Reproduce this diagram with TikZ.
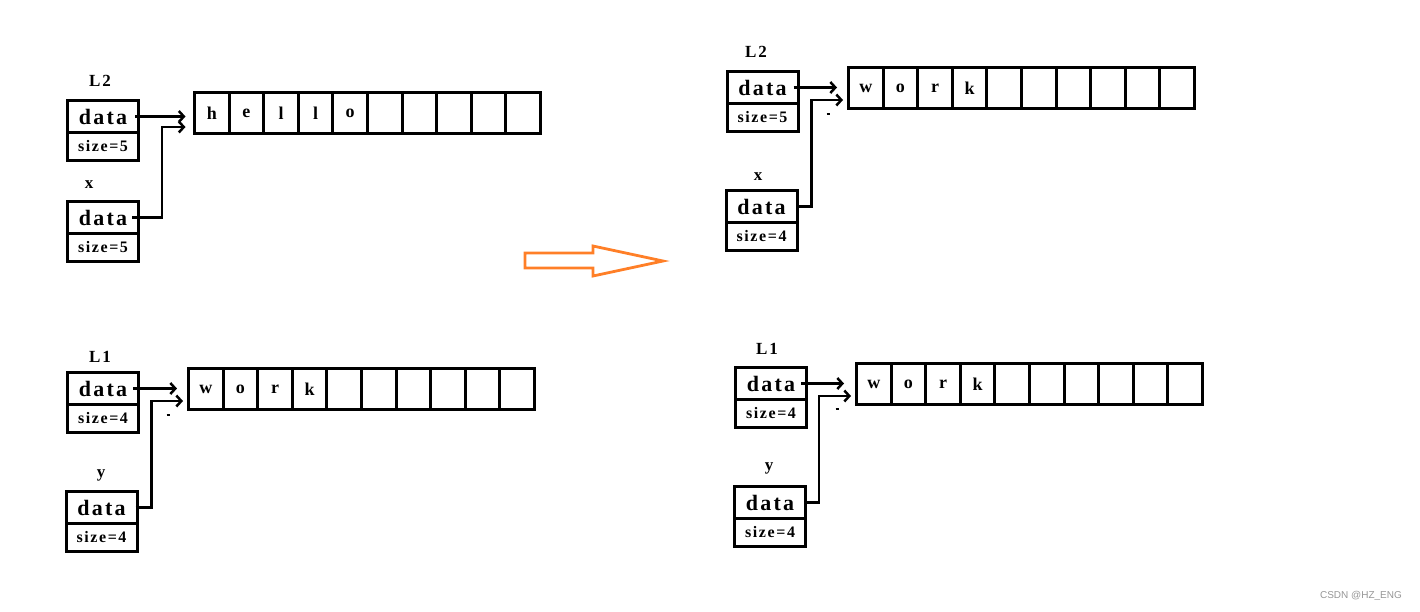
\documentclass[tikz,border=0pt]{standalone}
\usepackage{fontspec}
\setmainfont{Liberation Serif}[LetterSpace=10]
\setsansfont{Liberation Sans}
\usetikzlibrary{arrows.meta,positioning}
\definecolor{ArrowClr}{RGB}{255,127,39}
\definecolor{MarkClr}{RGB}{150,150,150}

\begin{document}
\begin{tikzpicture}[x=1pt,y=-1pt,
  box/.style={draw,line width=3pt,outer sep=0pt,inner sep=0pt,minimum width=71pt},
  datapart/.style={box,minimum height=32pt,font=\bfseries\fontsize{22}{22}\selectfont},
  sizepart/.style={box,minimum height=28pt,font=\bfseries\fontsize{16}{16}\selectfont},
  slot/.style={draw,line width=3pt,outer sep=0pt,inner sep=0pt,minimum width=34.6pt,
    minimum height=41pt,font=\bfseries\fontsize{18}{18}\selectfont},
  varname/.style={font=\bfseries\fontsize{17}{17}\selectfont},
  link/.style={line width=2.5pt,-{Straight Barb[length=5pt,width=11pt]}},
  speck/.style={line width=1.5pt}]

\useasboundingbox (0,0) rectangle (1420,611);

% before: L2 and x
\node[varname] (L2n) at (100,81) {L2};
\node[datapart] (L2d) at (103,116.5) {data};
\node[sizepart,below=0pt of L2d] (L2s) {size=5};
\node[varname] (xn) at (89,185) {x};
\node[datapart] (xd) at (103,217.5) {data};
\node[sizepart,below=0pt of xd] (xs) {size=5};
\foreach \i in {1,...,10}
  \node[slot] (L2a\i) at ({177.2+34.6*\i},113) {};
\foreach \c [count=\i] in {h,e,l,l,o}
  \node[slot,draw=none] at (L2a\i) {\c};
\draw[link,shorten >=9pt] ([xshift=-3.5pt]L2d.east) -- (L2d.east -| L2a1.west);
\draw[link,shorten >=9pt] ([xshift=-6.5pt]xd.east) -- ++(30,0) |- ([yshift=-14pt]L2a1.west);

% before: L1 and y
\node[varname] (L1n) at (100,357) {L1};
\node[datapart] (L1d) at (103,388.5) {data};
\node[sizepart,below=0pt of L1d] (L1s) {size=4};
\node[varname] (yn) at (101,475) {y};
\node[datapart] (yd) at (101.5,507.5) {data};
\node[sizepart,below=0pt of yd] (ys) {size=4};
\foreach \i in {1,...,10}
  \node[slot] (L1a\i) at ({171.2+34.6*\i},389) {};
\foreach \c [count=\i] in {w,o,r,k}
  \node[slot,draw=none] at (L1a\i) {\c};
\draw[link,shorten >=11.5pt] ([xshift=-5.5pt]L1d.east) -- (L1d.east -| L1a1.west);
\draw[link,shorten >=5.5pt] ([xshift=-1.5pt]yd.east) -- ++(16,0) |- ([yshift=-12pt]L1a1.west);
\draw[speck] (166.5,415) -- (169.5,415);

% swap
\draw[ArrowClr,line width=2.8pt] (525,253) -- (593,253) -- (593,246) -- (663,261)
  -- (593,276) -- (593,268) -- (525,268) -- cycle;

% after: L2 and x
\node[varname] (L2nb) at (756,52) {L2};
\node[datapart] (L2db) at (762.5,87.5) {data};
\node[sizepart,below=0pt of L2db] (L2sb) {size=5};
\node[varname] (xnb) at (758,177) {x};
\node[datapart] (xdb) at (761.5,206.5) {data};
\node[sizepart,below=0pt of xdb] (xsb) {size=4};
\foreach \i in {1,...,10}
  \node[slot] (L2b\i) at ({831.2+34.6*\i},88) {};
\foreach \c [count=\i] in {w,o,r,k}
  \node[slot,draw=none] at (L2b\i) {\c};
\draw[link,shorten >=11.5pt] ([xshift=-4.5pt]L2db.east) -- (L2db.east -| L2b1.west);
\draw[link,shorten >=5.5pt] ([xshift=-0.5pt]xdb.east) -- ++(15,0) |- ([yshift=-12pt]L2b1.west);
\draw[speck] (826.5,114) -- (829.5,114);

% after: L1 and y
\node[varname] (L1nb) at (767,349) {L1};
\node[datapart] (L1db) at (771,383.5) {data};
\node[sizepart,below=0pt of L1db] (L1sb) {size=4};
\node[varname] (ynb) at (769,468) {y};
\node[datapart] (ydb) at (770,502.5) {data};
\node[sizepart,below=0pt of ydb] (ysb) {size=4};
\foreach \i in {1,...,10}
  \node[slot] (L1b\i) at ({839.2+34.6*\i},384) {};
\foreach \c [count=\i] in {w,o,r,k}
  \node[slot,draw=none] at (L1b\i) {\c};
\draw[link,shorten >=12.5pt] ([xshift=-5.5pt]L1db.east) -- (L1db.east -| L1b1.west);
\draw[link,shorten >=5.5pt] ([xshift=-0.5pt]ydb.east) -- ++(14,0) |- ([yshift=-12pt]L1b1.west);
\draw[speck] (835.5,409) -- (838.5,409);

\node[text=MarkClr,font=\sffamily\fontsize{10}{10}\selectfont] (mark) at (1361,596) {CSDN @HZ\_ENG};

\end{tikzpicture}
\end{document}
